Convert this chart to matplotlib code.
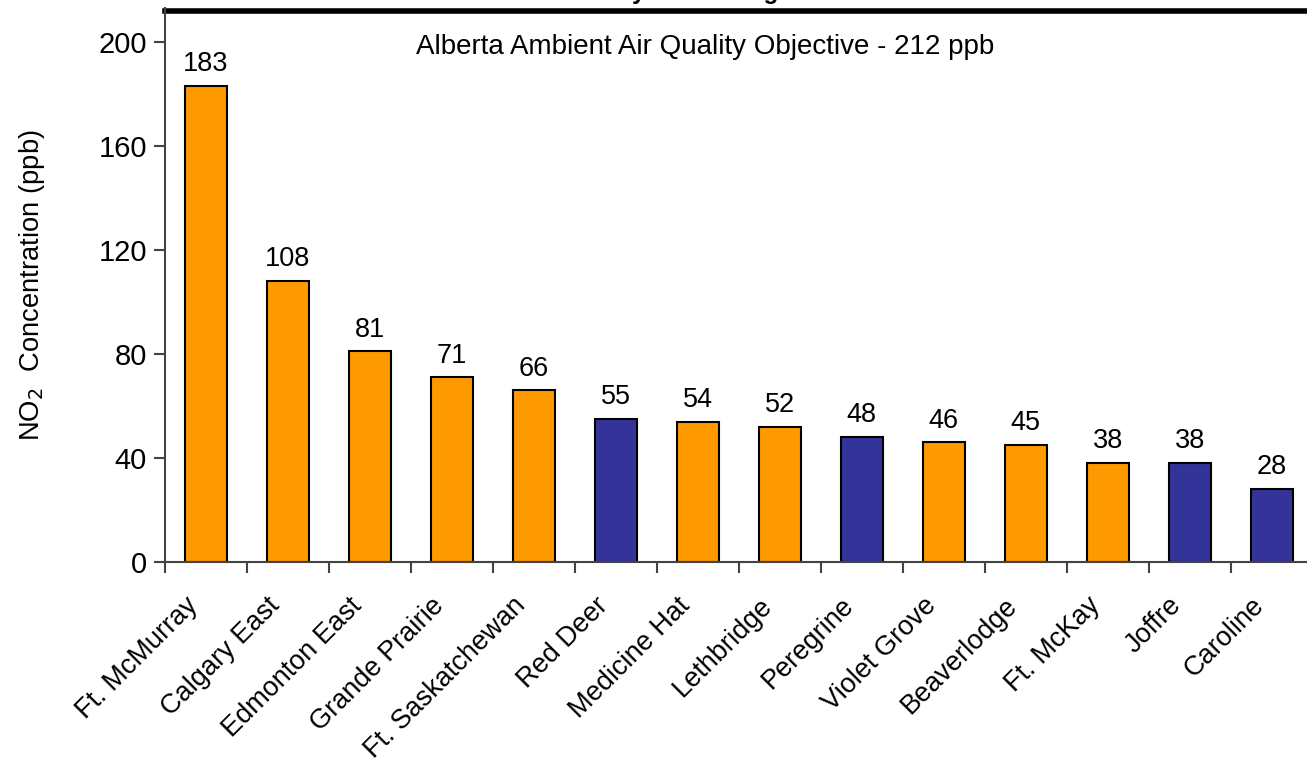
import matplotlib.pyplot as plt
import matplotlib.transforms as mtransforms
import numpy as np

plt.rcParams['font.family'] = ['Liberation Sans', 'DejaVu Sans']

# maximum one-hour NO2 per station (ppb)
stations = ['Ft. McMurray', 'Calgary East', 'Edmonton East', 'Grande Prairie',
            'Ft. Saskatchewan', 'Red Deer', 'Medicine Hat', 'Lethbridge',
            'Peregrine', 'Violet Grove', 'Beaverlodge', 'Ft. McKay',
            'Joffre', 'Caroline']
no2_max = [183, 108, 81, 71, 66, 55, 54, 52, 48, 46, 45, 38, 38, 28]
# orange / blue station groups
group = ['o', 'o', 'o', 'o', 'o', 'b', 'o', 'o', 'b', 'o', 'o', 'o', 'b', 'b']
objective = 212

colors = {'o': '#FF9900', 'b': '#333399'}
bar_colors = [colors[g] for g in group]

fig = plt.figure(figsize=(13.07, 7.59), dpi=100)
ax = fig.add_axes([0.1262, 0.2596, 0.8781, 0.7296])

x = np.arange(len(stations))
ax.bar(x, no2_max, width=0.51, color=bar_colors, edgecolor='black', linewidth=1.5)

for xi, v in zip(x, no2_max):
    ax.text(xi, v + 3.4, str(v), ha='center', va='bottom', fontsize=19.5)

# objective line along the top
ax.axhline(objective, color='black', linewidth=4, clip_on=False)
ax.text(0.471, 0.93, 'Alberta Ambient Air Quality Objective - %d ppb' % objective,
        transform=ax.transAxes, ha='center', va='center', fontsize=20)

ax.set_xlim(-0.5, len(stations) - 0.5)
ax.set_ylim(0, 213)
ax.set_yticks([0, 40, 80, 120, 160, 200])

# x ticks sit between the bars, labels under the bars
ax.set_xticks(np.arange(len(stations)) - 0.5, minor=False)
ax.set_xticklabels([])
ax.set_xticks(x, minor=True)
ax.set_xticklabels(stations, minor=True, rotation=45, ha='right',
                   rotation_mode='anchor', fontsize=19.5)
ax.tick_params(axis='x', which='minor', length=0, pad=22)
ax.tick_params(axis='x', which='major', length=8, width=1.5, color='#444444', direction='out')
ax.tick_params(axis='y', length=8, width=1.5, color='#444444', labelsize=21, pad=5)

shift = mtransforms.ScaledTranslation(-0.21, 0, fig.dpi_scale_trans)
for lbl in ax.get_xticklabels(minor=True):
    lbl.set_transform(lbl.get_transform() + shift)

for s in ['top', 'right']:
    ax.spines[s].set_visible(False)
for s in ['left', 'bottom']:
    ax.spines[s].set_color('#444444')
    ax.spines[s].set_linewidth(1.5)

ax.set_ylabel('NO$_2$  Concentration (ppb)', fontsize=19.7, labelpad=37)

# title mostly cut off by the top edge
fig.text(646 / 1307, 1.0015, 'Maximum One-Hour NO2 Concentrations by', ha='right',
         va='baseline', fontsize=17.5, fontweight='bold')
fig.text(646 / 1307, 1.0015, ' Monitoring Station', ha='left',
         va='baseline', fontsize=17.5, fontweight='bold')

fig.savefig('out.png', dpi=100)
